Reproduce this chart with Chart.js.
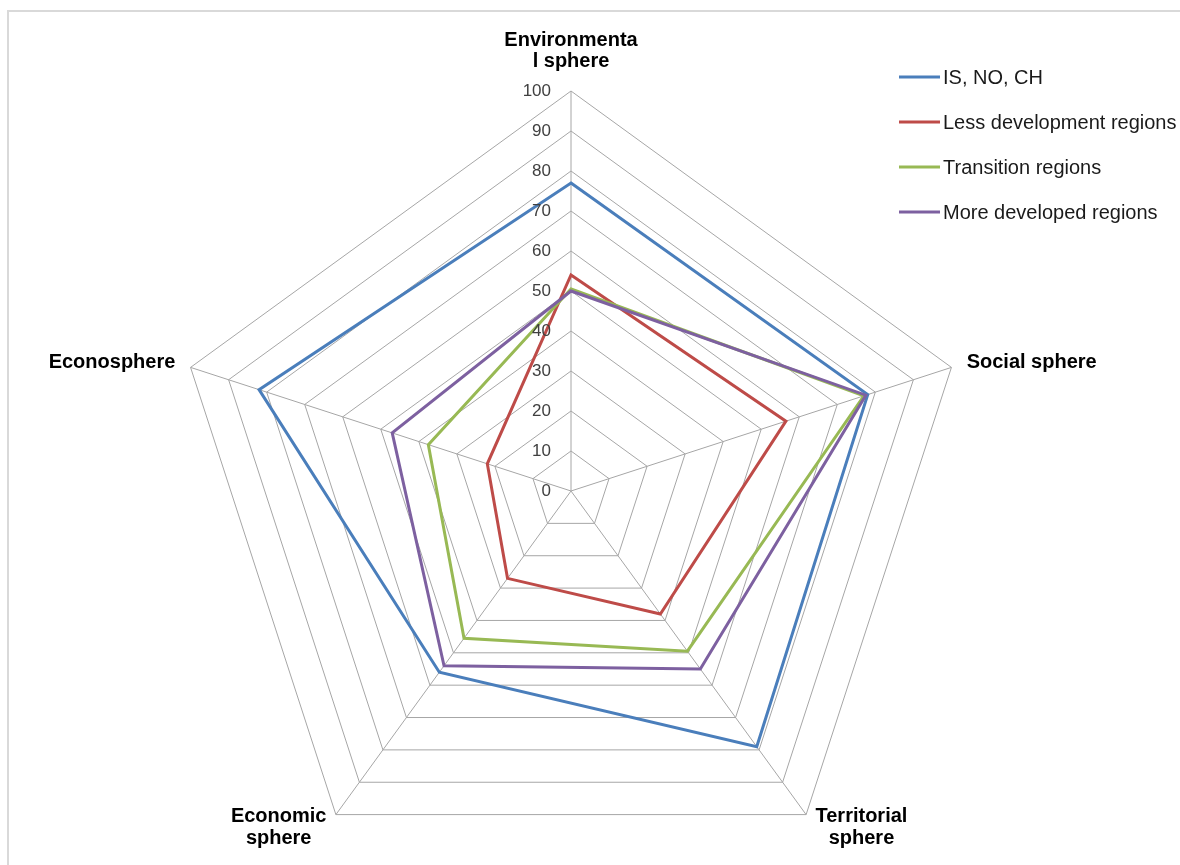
<!DOCTYPE html>
<html>
<head>
<meta charset="utf-8">
<script src="https://cdn.jsdelivr.net/npm/chart.js@4/dist/chart.umd.min.js"></script>
<style>
    html, body { margin: 0; padding: 0; background: #fff; overflow: hidden; }
    #frame {
        position: absolute; left: 7px; top: 10px;
        width: 1300px; height: 1000px;
        border-left: 2px solid #d9d9d9; border-top: 2px solid #d9d9d9;
    }
    #spheres_chart { position: absolute; left: 0; top: 0; }
</style>
</head>
<body>
<div id="frame"></div>
<canvas id="spheres_chart" width="1180" height="920"></canvas>
<script>
'use strict';

var spheres = [
    ['Environmenta', 'l sphere'],
    ['Social sphere'],
    ['Territorial', 'sphere'],
    ['Economic', 'sphere'],
    ['Econosphere']
];
var seriesNames = ['IS, NO, CH', 'Less development regions', 'Transition regions', 'More developed regions'];
var isNoCh = [77, 78, 79, 56, 82];
var lessDeveloped = [54, 56.5, 38, 27, 22];
var transition = [50.5, 77, 49.5, 45.5, 37.5];
var moreDeveloped = [50, 77.5, 55, 54, 47];
var tickMin = 0;
var tickMax = 100;
var tickStep = 10;

var seriesColors = ['#4a7ebb', '#be4b48', '#98b954', '#7d60a0'];
var textFont = '"Liberation Sans", Arial, sans-serif';

function series(idx, values) {
    return {
        label: seriesNames[idx],
        data: values,
        borderColor: seriesColors[idx],
        backgroundColor: seriesColors[idx],
        borderWidth: 3,
        borderJoinStyle: 'miter',
        fill: false,
        tension: 0,
        pointRadius: 0,
        pointHoverRadius: 0,
        order: 4 - idx
    };
}

// value labels, right-aligned just left of the top spoke
var tickLabels = {
    id: 'tickLabels',
    afterDatasetsDraw: function (chart) {
        var scale = chart.scales.r;
        var ctx = chart.ctx;
        ctx.save();
        ctx.font = '17px ' + textFont;
        ctx.fillStyle = '#404040';
        ctx.textAlign = 'right';
        ctx.textBaseline = 'middle';
        scale.ticks.forEach(function (t) {
            var d = scale.getDistanceFromCenterForValue(t.value);
            ctx.fillText(String(t.value), scale.xCenter - 20, scale.yCenter - d);
        });
        ctx.restore();
    }
};

// sphere names outside the outer ring
var sphereLabels = {
    id: 'sphereLabels',
    afterDraw: function (chart) {
        var scale = chart.scales.r;
        var ctx = chart.ctx;
        ctx.save();
        ctx.font = 'bold 20px ' + textFont;
        ctx.fillStyle = '#000';
        ctx.textBaseline = 'middle';
        ctx.textAlign = 'center';
        chart.data.labels.forEach(function (lines, i) {
            var p = scale.getPointPosition(i, scale.drawingArea + 16);
            var widths = lines.map(function (l) { return ctx.measureText(l).width; });
            var blockW = Math.max.apply(null, widths);
            var dx = p.x - scale.xCenter;
            var midX, firstY, lineH;
            if (Math.abs(dx) < 1) midX = p.x;
            else if (dx > 0) midX = p.x + blockW / 2;
            else midX = p.x - blockW / 2;
            if (Math.abs(dx) < 1) {
                // top label sits above the ring, last line 30px over the vertex
                var v = scale.getPointPosition(i, scale.drawingArea);
                lineH = 21;
                firstY = v.y - 30 - (lines.length - 1) * lineH;
            } else {
                lineH = 22;
                firstY = p.y - (lines.length - 1) * lineH / 2;
            }
            lines.forEach(function (l, k) {
                ctx.fillText(l, midX, firstY + k * lineH);
            });
        });
        ctx.restore();
    }
};

// legend block at the top right
var sideLegend = {
    id: 'sideLegend',
    afterDraw: function (chart) {
        var ctx = chart.ctx;
        ctx.save();
        ctx.font = '20px ' + textFont;
        ctx.textAlign = 'left';
        ctx.textBaseline = 'middle';
        chart.data.datasets.forEach(function (ds, i) {
            var y = 77 + i * 45;
            ctx.strokeStyle = ds.borderColor;
            ctx.lineWidth = 3;
            ctx.beginPath();
            ctx.moveTo(899, y);
            ctx.lineTo(940, y);
            ctx.stroke();
            ctx.fillStyle = '#1a1a1a';
            ctx.fillText(ds.label, 943, y + 1);
        });
        ctx.restore();
    }
};

var ctx = document.getElementById('spheres_chart');
var myChart = new Chart(ctx, {
    type: 'radar',
    data: {
        labels: spheres,
        datasets: [
            series(0, isNoCh),
            series(1, lessDeveloped),
            series(2, transition),
            series(3, moreDeveloped)
        ]
    },
    options: {
        responsive: false,
        animation: false,
        layout: { padding: { left: 171, right: 209, top: 91, bottom: 29 } },
        plugins: {
            legend: { display: false },
            tooltip: { enabled: false }
        },
        elements: { line: { borderCapStyle: 'butt' } },
        scales: {
            r: {
                min: tickMin,
                max: tickMax,
                ticks: { display: false, stepSize: tickStep },
                pointLabels: { display: false },
                grid: { color: '#a6a6a6', lineWidth: 1 },
                angleLines: { color: '#a6a6a6', lineWidth: 1 }
            }
        }
    },
    plugins: [tickLabels, sphereLabels, sideLegend]
});
</script>
</body>
</html>
